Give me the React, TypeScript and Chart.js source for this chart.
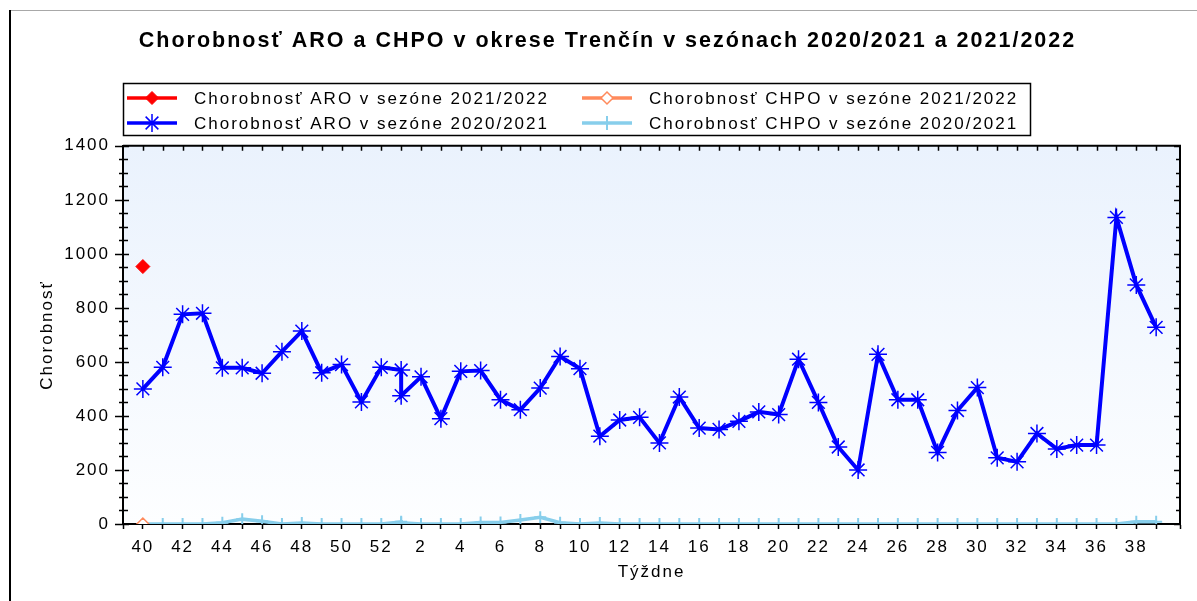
import { useEffect, useRef } from 'react';
import { Chart, registerables } from 'chart.js';

Chart.register(...registerables);

const FONT = "'Liberation Sans', Arial, sans-serif";
const TITLE = 'Chorobnosť ARO a CHPO v okrese Trenčín v sezónach 2020/2021 a 2021/2022';
const X_TITLE = 'Týždne';
const Y_TITLE = 'Chorobnosť';

// Tick labels along the x axis (one per week position)
const weekTickLabels = [
  '40', '41', '42', '43', '44', '45', '46', '47', '48', '49', '50', '51', '52',
  '1', '2', '3', '4', '5', '6', '7', '8', '9', '10', '11', '12', '13', '14', '15',
  '16', '17', '18', '19', '20', '21', '22', '23', '24', '25', '26', '27', '28',
  '29', '30', '31', '32', '33', '34', '35', '36', '37', '38', '39',
];

// Season 2021/2022
const season2122Weeks = [40];
const aro2122Values = [953];
const chpo2122Values = [0];

// Season 2020/2021 (53 weeks)
const season2021Weeks = [
  40, 41, 42, 43, 44, 45, 46, 47, 48, 49, 50, 51, 52, 53,
  1, 2, 3, 4, 5, 6, 7, 8, 9, 10, 11, 12, 13, 14, 15, 16, 17, 18, 19, 20,
  21, 22, 23, 24, 25, 26, 27, 28, 29, 30, 31, 32, 33, 34, 35, 36, 37, 38, 39,
];
const aro2021Values = [
  500, 580, 776, 780, 578, 578, 558, 638, 714, 560, 590, 452, 580, 570,
  475, 545, 390, 565, 568, 460, 423, 503, 620, 575,
  325, 385, 395, 300, 470, 355, 350, 380, 415, 405,
  610, 450, 285, 200, 628, 460, 460, 265, 420, 505,
  245, 230, 335, 278, 292, 292, 1135, 885, 728,
];
const chpo2021Values = [
  0, 0, 0, 0, 5, 18, 10, 0, 4, 0, 0, 0, 0, 8,
  5, 0, 0, 0, 6, 6, 15, 25, 5, 0,
  4, 0, 0, 0, 0, 0, 0, 0, 0, 0,
  0, 0, 0, 0, 0, 0, 0, 0, 0, 0,
  0, 0, 0, 0, 0, 0, 0, 8, 8,
];

const LABEL_ARO_2122 = 'Chorobnosť ARO v sezóne 2021/2022';
const LABEL_CHPO_2122 = 'Chorobnosť CHPO v sezóne 2021/2022';
const LABEL_ARO_2021 = 'Chorobnosť ARO v sezóne 2020/2021';
const LABEL_CHPO_2021 = 'Chorobnosť CHPO v sezóne 2020/2021';

// week number -> position on the week axis (week 53 shares the slot of week 1)
const weekPos = (w: number) => (w >= 40 ? w - 40 : w + 12);
const toPoints = (weeks: number[], values: number[]) =>
  weeks.map((w, i) => ({ x: weekPos(w), y: values[i] }));

function drawMarker(
  ctx: CanvasRenderingContext2D,
  style: string,
  x: number,
  y: number,
  r: number,
  stroke: string,
  fill: string,
  lw: number
) {
  ctx.save();
  ctx.strokeStyle = stroke;
  ctx.fillStyle = fill;
  ctx.lineWidth = lw;
  ctx.beginPath();
  if (style === 'rectRot') {
    ctx.moveTo(x, y - r);
    ctx.lineTo(x + r, y);
    ctx.lineTo(x, y + r);
    ctx.lineTo(x - r, y);
    ctx.closePath();
    ctx.fill();
    ctx.stroke();
  } else if (style === 'star') {
    for (let k = 0; k < 4; k++) {
      const a = (k * Math.PI) / 4;
      ctx.moveTo(x - Math.cos(a) * r, y - Math.sin(a) * r);
      ctx.lineTo(x + Math.cos(a) * r, y + Math.sin(a) * r);
    }
    ctx.stroke();
  } else {
    ctx.moveTo(x - r, y);
    ctx.lineTo(x + r, y);
    ctx.moveTo(x, y - r);
    ctx.lineTo(x, y + r);
    ctx.stroke();
  }
  ctx.restore();
}

const decorPlugin = {
  id: 'decor',
  beforeUpdate(chart: any) {
    chart.ctx.letterSpacing = '2px';
  },
  beforeDraw(chart: any) {
    const ctx = chart.ctx as CanvasRenderingContext2D;
    (ctx as any).letterSpacing = '2px';
    const { left, right, top, bottom } = chart.chartArea;
    ctx.save();
    // outer frame
    ctx.fillStyle = '#a8a8a8';
    ctx.fillRect(9, 10, chart.width - 9, 1);
    ctx.fillStyle = '#000';
    ctx.fillRect(9, 10, 2, chart.height - 10);
    // plot background gradient
    const g = ctx.createLinearGradient(0, top, 0, bottom);
    g.addColorStop(0, '#eaf2fd');
    g.addColorStop(1, '#fdfeff');
    ctx.fillStyle = g;
    ctx.fillRect(left, top, right - left, bottom - top);
    ctx.restore();
  },
  afterDraw(chart: any) {
    const ctx = chart.ctx as CanvasRenderingContext2D;
    const { left, right, top, bottom } = chart.chartArea;
    const ys = chart.scales.y;
    const xs = chart.scales.x;
    ctx.save();
    ctx.strokeStyle = '#000';
    // top and right frame
    ctx.lineWidth = 2;
    ctx.beginPath();
    ctx.moveTo(left, top);
    ctx.lineTo(right, top);
    ctx.lineTo(right, bottom);
    ctx.stroke();
    // y ticks (crossing on left, inward on right)
    ctx.lineWidth = 1.5;
    ctx.beginPath();
    for (let v = ys.min; v <= ys.max; v += 50) {
      const py = Math.round(ys.getPixelForValue(v)) + 0.5;
      const major = v % 200 === 0;
      ctx.moveTo(left - (major ? 8 : 4), py);
      ctx.lineTo(left + (major ? 6 : 5), py);
      ctx.moveTo(right - (major ? 6 : 4), py);
      ctx.lineTo(right, py);
    }
    // top ticks (inward) at each week
    for (let i = 0; i < weekTickLabels.length; i++) {
      const px = Math.round(xs.getPixelForValue(i)) + 0.5;
      ctx.moveTo(px, top);
      ctx.lineTo(px, top + 5);
    }
    ctx.stroke();

    // custom legend
    const colX = [127, 582];
    const rowY = [98, 123];
    ctx.lineWidth = 1.5;
    ctx.strokeStyle = '#000';
    ctx.strokeRect(123.5, 83.5, 907, 52);
    ctx.font = `17px ${FONT}`;
    (ctx as any).letterSpacing = '2px';
    ctx.textBaseline = 'middle';
    ctx.textAlign = 'left';
    chart.data.datasets.forEach((ds: any, i: number) => {
      const x0 = colX[i % 2];
      const y0 = rowY[Math.floor(i / 2)];
      ctx.save();
      ctx.strokeStyle = ds.borderColor;
      ctx.lineWidth = 3.5;
      ctx.beginPath();
      ctx.moveTo(x0, y0);
      ctx.lineTo(x0 + 50, y0);
      ctx.stroke();
      ctx.restore();
      drawMarker(
        ctx,
        ds.pointStyle,
        x0 + 25,
        y0,
        ds.legendRadius,
        ds.pointBorderColor,
        ds.pointBackgroundColor,
        ds.pointBorderWidth
      );
      ctx.fillStyle = '#000';
      ctx.fillText(ds.label, x0 + 67, y0 + 1);
    });
    ctx.restore();
  },
};

export default function App() {
  const ref = useRef<HTMLCanvasElement | null>(null);

  useEffect(() => {
    document.body.style.margin = '0';
    document.body.style.overflow = 'hidden';
    const canvas = ref.current;
    if (!canvas) return;
    const tickFont = { family: FONT, size: 17 };
    const chart = new Chart(canvas, {
      type: 'line',
      data: {
        datasets: [
          {
            label: LABEL_ARO_2122,
            data: toPoints(season2122Weeks, aro2122Values),
            borderColor: '#ff0000',
            backgroundColor: '#ff0000',
            borderWidth: 3.5,
            pointStyle: 'rectRot',
            pointRadius: 7,
            pointBorderColor: '#ff0000',
            pointBackgroundColor: '#ff0000',
            pointBorderWidth: 1,
            legendRadius: 6.5,
          } as any,
          {
            label: LABEL_CHPO_2122,
            data: toPoints(season2122Weeks, chpo2122Values),
            borderColor: '#ff8a5c',
            backgroundColor: '#ffffff',
            borderWidth: 3.5,
            pointStyle: 'rectRot',
            pointRadius: 6,
            pointBorderColor: '#ff8a5c',
            pointBackgroundColor: '#ffffff',
            pointBorderWidth: 1.5,
            legendRadius: 6,
          } as any,
          {
            label: LABEL_ARO_2021,
            data: toPoints(season2021Weeks, aro2021Values),
            borderColor: '#0000ff',
            backgroundColor: '#0000ff',
            borderWidth: 4,
            tension: 0,
            pointStyle: 'star',
            pointRadius: 9,
            pointBorderColor: '#0000ff',
            pointBackgroundColor: '#0000ff',
            pointBorderWidth: 1.5,
            legendRadius: 9,
          } as any,
          {
            label: LABEL_CHPO_2021,
            data: toPoints(season2021Weeks, chpo2021Values),
            borderColor: '#87ceeb',
            backgroundColor: '#87ceeb',
            borderWidth: 3.5,
            tension: 0,
            pointStyle: 'cross',
            pointRadius: 6,
            pointBorderColor: '#87ceeb',
            pointBackgroundColor: '#87ceeb',
            pointBorderWidth: 2,
            legendRadius: 7,
          } as any,
        ],
      },
      options: {
        responsive: false,
        animation: false,
        layout: { padding: { left: 35, right: 17, top: 0, bottom: 0 } },
        plugins: {
          legend: { display: false },
          tooltip: { enabled: false },
          title: {
            display: true,
            text: TITLE,
            color: '#000',
            font: { family: FONT, size: 21.5, weight: 'bold', lineHeight: 1.2 },
            padding: { top: 28, bottom: 92 },
          },
        },
        scales: {
          x: {
            type: 'linear',
            min: -1,
            max: 52.2,
            afterFit: (s: any) => {
              s.height = 77;
            },
            grid: {
              display: true,
              drawOnChartArea: false,
              tickLength: 5,
              color: '#000',
              tickColor: '#000',
              tickWidth: 1.5,
            },
            border: { display: true, color: '#000', width: 2 },
            ticks: {
              stepSize: 1,
              autoSkip: false,
              maxRotation: 0,
              padding: 8,
              color: '#000',
              font: tickFont,
              callback: (v: any) => {
                const n = Number(v);
                if (!Number.isInteger(n) || n < 0 || n % 2 !== 0 || n >= weekTickLabels.length) return '';
                return weekTickLabels[n];
              },
            },
            title: {
              display: true,
              text: X_TITLE,
              color: '#000',
              font: tickFont,
              padding: { top: 0, bottom: 18.8 },
            },
          },
          y: {
            min: 0,
            max: 1400,
            afterFit: (s: any) => {
              s.width = 88;
            },
            grid: {
              display: true,
              drawOnChartArea: false,
              tickLength: 7,
              color: 'rgba(0,0,0,0)',
              tickColor: 'rgba(0,0,0,0)',
            },
            border: { display: true, color: '#000', width: 2 },
            ticks: {
              stepSize: 200,
              padding: 6,
              color: '#000',
              font: tickFont,
              callback: (v: any) => String(v),
            },
            title: {
              display: true,
              text: Y_TITLE,
              color: '#000',
              font: tickFont,
              padding: { top: 1.8, bottom: 0 },
            },
          },
        },
      } as any,
      plugins: [decorPlugin],
    });
    return () => chart.destroy();
  }, []);

  return (
    <div style={{ width: 1197, height: 601, position: 'relative' }}>
      <canvas ref={ref} width={1197} height={601} style={{ display: 'block', width: 1197, height: 601 }} />
    </div>
  );
}
